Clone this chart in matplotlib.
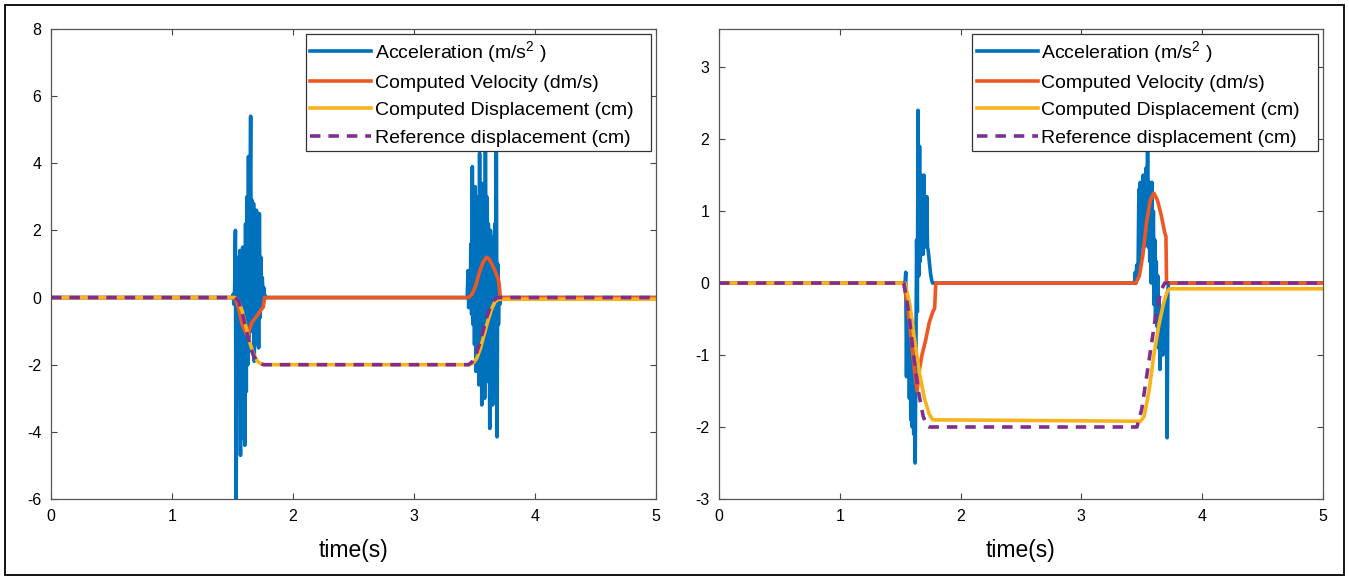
import matplotlib
matplotlib.use("Agg")
import matplotlib.pyplot as plt
from matplotlib.patches import Rectangle

plt.rcParams['font.family'] = ['Liberation Sans', 'DejaVu Sans']
plt.rcParams['mathtext.fontset'] = 'custom'
plt.rcParams['mathtext.rm'] = 'Liberation Sans'
plt.rcParams['mathtext.it'] = 'Liberation Sans'
plt.rcParams['axes.unicode_minus'] = False

# ---------------- data ----------------
DT = 0.006  # sample spacing inside the bursts

# left panel: acceleration bursts (start time, samples)
left_acc1_start = 1.50
left_acc1 = [0, 0.1, -0.2, 0.3, 2.0, -6.5, 0.5, -2.5, 1.2, -3.0, 1.4, -4.7, 0.8,
             -4.2, 1.5, -3.6, 1.3, -4.4, 2.2, -2.8, 3.0, -2.0, 4.2, -1.6, 2.6,
             5.4, -1.0, 2.9, -0.7, 2.8, -1.9, 2.2, -1.4, 2.6, -0.8, 1.8, -1.5,
             2.5, -0.6, 1.2, -0.3, 0.6, 0.1, 0.3, 0.1, 0.05, 0]
left_acc2_start = 3.44
left_acc2 = [0, 0.8, -0.3, 0.5, -0.2, 1.6, -0.5, 3.9, -0.8, 2.4, -1.4, 3.3, -2.2,
             2.0, -1.0, 3.0, -2.6, 4.3, -1.8, 2.6, -3.2, 3.4, -2.4, 2.2, -3.0,
             6.5, -2.0, 3.0, -2.5, 2.2, 1.5, -3.9, 2.0, -2.2, 1.2, -3.2, 1.8,
             -1.5, 2.2, -2.8, 6.5, -4.15, 1.0, -0.8, 0.4, -0.2, 0]

left_vel_t = [0, 1.52, 1.55, 1.58, 1.61, 1.63, 1.64, 1.66, 1.70, 1.74, 1.755, 1.765,
              3.45, 3.48, 3.51, 3.54, 3.57, 3.60, 3.62, 3.65, 3.68, 3.70, 3.712, 5]
left_vel = [0, 0, -0.3, -0.8, -1.05, -1.15, -0.95, -0.75, -0.55, -0.35, -0.28, 0,
            0, 0.1, 0.35, 0.75, 1.05, 1.2, 1.15, 0.95, 0.7, 0.5, 0, 0]

left_disp_t = [0, 1.52, 1.55, 1.58, 1.61, 1.64, 1.67, 1.70, 1.73, 1.76, 1.79,
               3.46, 3.49, 3.52, 3.55, 3.58, 3.61, 3.64, 3.67, 3.70, 3.72, 5]
left_disp = [0, 0, -0.1, -0.4, -0.85, -1.3, -1.65, -1.87, -1.97, -2.0, -2.0,
             -2.0, -1.95, -1.8, -1.5, -1.1, -0.7, -0.35, -0.12, -0.05, -0.05, -0.05]

left_ref_t = [0, 1.52, 1.55, 1.58, 1.61, 1.64, 1.67, 1.70, 1.73, 1.76,
              3.45, 3.48, 3.51, 3.54, 3.57, 3.60, 3.63, 3.66, 3.69, 5]
left_ref = [0, 0, -0.1, -0.45, -0.9, -1.35, -1.7, -1.9, -1.98, -2.0,
            -2.0, -1.92, -1.72, -1.4, -1.0, -0.6, -0.28, -0.08, 0, 0]

# right panel
right_acc1_start = 1.54
right_acc1 = [0, 0.15, -1.3, -0.2, -0.9, -0.4, -1.6, -0.7, -1.9, -1.1, -2.0, -1.3,
              -2.1, -0.9, -2.5, -1.0, 0.6, -0.4, 2.4, 0.1, 1.9, 0.3, 1.5, 0.5, 1.3,
              0.4, 1.5, 0.6, 1.2, 0.5, 1.2, 0.5, 0.45, 0.35, 0.25, 0.15, 0.08,
              0.03, 0]
right_acc2_start = 3.44
right_acc2 = [0, 0.15, 0.0, 0.25, 0.05, 0.3, 1.3, 0.3, 1.4, 0.5, 1.2, 0.6, 1.5,
              0.5, 1.3, 0.7, 1.6, 0.6, 1.9, 0.5, 1.4, 0.3, 1.2, 0.0, 1.4, 0.2,
              1.0, -0.3, 0.6, -0.5, 0.3, -0.6, 0.1, -0.9, -0.2, -1.2, -0.4, -0.8,
              -0.5, -1.0, -0.3, -0.6, -0.4, -0.7, -0.2, -2.15, -0.1, 0]

right_vel_t = [0, 1.53, 1.56, 1.59, 1.62, 1.64, 1.66, 1.68, 1.71, 1.74, 1.77, 1.785, 1.795,
               3.45, 3.48, 3.51, 3.54, 3.57, 3.60, 3.63, 3.66, 3.69, 3.70, 3.705, 5]
right_vel = [0, 0, -0.3, -0.75, -1.25, -1.5, -1.2, -1.0, -0.8, -0.55, -0.4, -0.35, 0,
             0, 0.1, 0.4, 0.85, 1.15, 1.25, 1.15, 0.95, 0.7, 0.65, 0, 0]

right_disp_t = [0, 1.54, 1.58, 1.62, 1.66, 1.70, 1.74, 1.77,
                3.49, 3.52, 3.56, 3.60, 3.64, 3.68, 3.71, 3.73, 5]
right_disp = [0, 0, -0.3, -0.8, -1.25, -1.6, -1.82, -1.9,
              -1.92, -1.85, -1.5, -1.0, -0.6, -0.28, -0.12, -0.08, -0.08]

right_ref_t = [0, 1.53, 1.57, 1.61, 1.65, 1.69, 1.72, 1.74,
               3.46, 3.50, 3.54, 3.58, 3.62, 3.66, 3.69, 5]
right_ref = [0, 0, -0.4, -1.0, -1.5, -1.85, -1.98, -2.0,
             -2.0, -1.75, -1.3, -0.85, -0.4, -0.1, 0, 0]

# trailing spaces give the legend the wide right margin of the original
labels = ['Acceleration (m/s$^2$ )', 'Computed Velocity (dm/s)',
          'Computed Displacement (cm)', 'Reference displacement (cm)   ']

C_BLUE = '#0072BD'
C_RED = '#EE5722'
C_YEL = '#F7B31B'
C_PUR = '#7E2F8E'


def burst_series(parts):
    """join the burst samples into one time/value trace, zero elsewhere"""
    t = [0.0]
    a = [0.0]
    for start, vals in parts:
        t.extend(start + DT * i for i in range(len(vals)))
        a.extend(vals)
    t.append(5.0)
    a.append(0.0)
    return t, a


def draw(ax, acc, vel_t, vel, disp_t, disp, ref_t, ref, ylim, yticks):
    t, a = burst_series(acc)
    ax.plot(t, a, color=C_BLUE, lw=2.6, label=labels[0])
    ax.plot(vel_t, vel, color=C_RED, lw=2.6, label=labels[1])
    ax.plot(disp_t, disp, color=C_YEL, lw=2.6, label=labels[2])
    ax.plot(ref_t, ref, color=C_PUR, lw=2.6, dashes=(2.9, 2.2), label=labels[3])

    ax.set_xlim(0, 5)
    ax.set_ylim(*ylim)
    ax.set_xticks(range(6))
    ax.set_yticks(yticks)
    ax.tick_params(direction='in', top=True, right=True, length=4,
                   labelsize=11.5, color='#444444', pad=7)
    for s in ax.spines.values():
        s.set_color('#555555')
        s.set_linewidth(0.9)
    ax.set_xlabel('time(s)', fontsize=16.5, labelpad=11)

    leg = ax.legend(loc='upper right', fontsize=14, handlelength=3.1,
                    handletextpad=0.2, labelspacing=0.5, borderpad=0.25,
                    borderaxespad=0.25, fancybox=False, framealpha=1)
    leg.get_frame().set_edgecolor('#333333')
    leg.get_frame().set_linewidth(0.9)


fig = plt.figure(figsize=(13.49, 5.80), dpi=100)
ax1 = fig.add_axes([0.0378, 0.1397, 0.4485, 0.8103])
ax2 = fig.add_axes([0.5330, 0.1397, 0.4477, 0.8103])

draw(ax1, [(left_acc1_start, left_acc1), (left_acc2_start, left_acc2)],
     left_vel_t, left_vel, left_disp_t, left_disp, left_ref_t, left_ref,
     (-6, 8), range(-6, 9, 2))
draw(ax2, [(right_acc1_start, right_acc1), (right_acc2_start, right_acc2)],
     right_vel_t, right_vel, right_disp_t, right_disp, right_ref_t, right_ref,
     (-3, 3.53), range(-3, 4))

# outer frame around the whole figure
fig.patches.append(Rectangle((0.004, 0.008), 0.992, 0.984, transform=fig.transFigure,
                             fill=False, edgecolor='black', linewidth=1.3))

fig.savefig('out.png', dpi=100)
